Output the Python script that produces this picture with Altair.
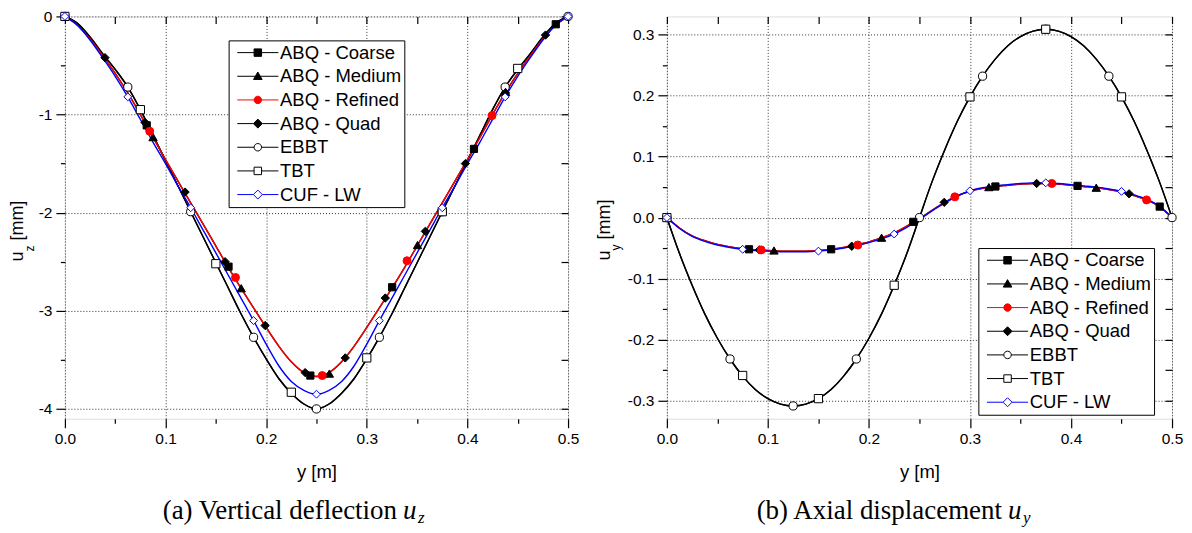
import altair as alt
import pandas as pd

FONT = "Liberation Sans"
SERIF = "Liberation Serif"

# ---------------- data ----------------
SERIES = ["ABQ - Coarse", "ABQ - Medium", "ABQ - Refined", "ABQ - Quad", "EBBT", "TBT", "CUF - LW"]

Y_GRID = [0.0, 0.0125, 0.025, 0.0375, 0.05, 0.0625, 0.075, 0.0875, 0.1, 0.1125,
          0.125, 0.1375, 0.15, 0.1625, 0.175, 0.1875, 0.2, 0.2125, 0.225, 0.2375,
          0.25, 0.2625, 0.275, 0.2875, 0.3, 0.3125, 0.325, 0.3375, 0.35, 0.3625,
          0.375, 0.3875, 0.4, 0.4125, 0.425, 0.4375, 0.45, 0.4625, 0.475, 0.4875, 0.5]

# (a) vertical deflection u_z [mm] -- curves
UZ_EBBT = [0, -0.07, -0.21, -0.38, -0.54, -0.72, -0.95, -1.21, -1.47, -1.73,
           -1.99, -2.25, -2.51, -2.77, -3.03, -3.27, -3.49, -3.69, -3.84, -3.95,
           -4.00, -3.95, -3.84, -3.69, -3.49, -3.27, -3.03, -2.77, -2.51, -2.25,
           -1.99, -1.73, -1.47, -1.21, -0.95, -0.72, -0.54, -0.38, -0.21, -0.07, 0]
UZ_TBT = [0, -0.07, -0.21, -0.38, -0.54, -0.72, -0.95, -1.21, -1.47, -1.73,
          -1.99, -2.25, -2.51, -2.77, -3.03, -3.27, -3.49, -3.69, -3.84, -3.95,
          -4.00, -3.95, -3.84, -3.69, -3.49, -3.27, -3.03, -2.77, -2.51, -2.25,
          -1.99, -1.73, -1.47, -1.21, -0.95, -0.72, -0.54, -0.38, -0.21, -0.07, 0]
UZ_CUF = [0, -0.09, -0.24, -0.42, -0.61, -0.82, -1.05, -1.28, -1.50, -1.73,
          -1.95, -2.18, -2.41, -2.64, -2.87, -3.10, -3.34, -3.56, -3.72, -3.81,
          -3.85, -3.81, -3.72, -3.56, -3.34, -3.10, -2.87, -2.64, -2.41, -2.18,
          -1.95, -1.73, -1.50, -1.28, -1.05, -0.82, -0.61, -0.42, -0.24, -0.09, 0]
UZ_ABQ = [0, -0.09, -0.23, -0.40, -0.58, -0.78, -1.00, -1.23, -1.46, -1.68,
          -1.90, -2.12, -2.34, -2.56, -2.77, -2.97, -3.17, -3.36, -3.52, -3.63,
          -3.67, -3.63, -3.52, -3.36, -3.17, -2.97, -2.77, -2.56, -2.34, -2.12,
          -1.90, -1.68, -1.46, -1.23, -1.00, -0.78, -0.58, -0.40, -0.23, -0.09, 0]

# (a) markers
UZ_EBBT_MY = [0, 0.0625, 0.125, 0.1875, 0.25, 0.3125, 0.375, 0.4375, 0.5]
UZ_EBBT_MU = [0, -0.72, -1.99, -3.27, -4.00, -3.27, -1.99, -0.72, 0]
UZ_TBT_MY = [0, 0.075, 0.15, 0.225, 0.3, 0.375, 0.45]
UZ_TBT_MU = [0, -0.95, -2.52, -3.83, -3.48, -1.99, -0.53]
UZ_CUF_MY = [0, 0.0625, 0.125, 0.1875, 0.25, 0.3125, 0.375, 0.4375, 0.5]
UZ_CUF_MU = [0, -0.82, -1.95, -3.10, -3.85, -3.10, -1.95, -0.82, 0]
UZ_COARSE_MY = [0.0813, 0.1626, 0.2439, 0.3252, 0.4065, 0.4878]
UZ_COARSE_MU = [-1.11, -2.55, -3.66, -2.76, -1.35, -0.08]
UZ_MEDIUM_MY = [0.0876, 0.1752, 0.2628, 0.3504, 0.438]
UZ_MEDIUM_MU = [-1.23, -2.77, -3.64, -2.33, -0.77]
UZ_REFINED_MY = [0.0843, 0.1695, 0.2557, 0.340, 0.4245]
UZ_REFINED_MU = [-1.17, -2.66, -3.66, -2.49, -1.01]
UZ_QUAD_MY = [0.0398, 0.0796, 0.1194, 0.1592, 0.199, 0.2388, 0.2786, 0.3184, 0.3582, 0.398, 0.4378, 0.4776]
UZ_QUAD_MU = [-0.42, -1.08, -1.79, -2.50, -3.15, -3.63, -3.48, -2.87, -2.19, -1.50, -0.78, -0.19]

# (b) axial displacement u_y [mm] -- curves
UY_EBBT = [0, -0.059, -0.111, -0.158, -0.198, -0.232, -0.260, -0.282, -0.297, -0.306,
           -0.309, -0.306, -0.297, -0.282, -0.260, -0.232, -0.198, -0.158, -0.111, -0.059,
           0, 0.059, 0.111, 0.158, 0.198, 0.232, 0.260, 0.282, 0.297, 0.306,
           0.309, 0.306, 0.297, 0.282, 0.260, 0.232, 0.198, 0.158, 0.111, 0.059, 0]
UY_TBT = [0, -0.059, -0.111, -0.158, -0.198, -0.232, -0.260, -0.282, -0.297, -0.306,
          -0.309, -0.306, -0.297, -0.282, -0.260, -0.232, -0.198, -0.158, -0.111, -0.059,
          0, 0.059, 0.111, 0.158, 0.198, 0.232, 0.260, 0.282, 0.297, 0.306,
          0.309, 0.306, 0.297, 0.282, 0.260, 0.232, 0.198, 0.158, 0.111, 0.059, 0]
UY_CUF = [0, -0.018, -0.031, -0.039, -0.045, -0.049, -0.052, -0.054, -0.055, -0.056,
          -0.056, -0.056, -0.055, -0.053, -0.050, -0.046, -0.041, -0.035, -0.027, -0.016,
          -0.003, 0.011, 0.024, 0.035, 0.044, 0.049, 0.052, 0.054, 0.056, 0.057,
          0.057, 0.056, 0.054, 0.052, 0.050, 0.047, 0.043, 0.037, 0.030, 0.019, 0]
UY_ABQ = [0, -0.017, -0.030, -0.038, -0.044, -0.048, -0.051, -0.053, -0.054, -0.055,
          -0.055, -0.055, -0.054, -0.052, -0.049, -0.045, -0.040, -0.033, -0.025, -0.014,
          -0.002, 0.012, 0.025, 0.036, 0.043, 0.048, 0.051, 0.053, 0.055, 0.056,
          0.056, 0.055, 0.053, 0.051, 0.049, 0.046, 0.042, 0.036, 0.029, 0.018, 0]

# (b) markers
UY_EBBT_MY = [0, 0.0625, 0.125, 0.1875, 0.25, 0.3125, 0.375, 0.4375, 0.5]
UY_EBBT_MU = [0, -0.232, -0.309, -0.232, 0, 0.232, 0.309, 0.232, 0]
UY_TBT_MY = [0, 0.075, 0.15, 0.225, 0.3, 0.375, 0.45]
UY_TBT_MU = [0, -0.259, -0.297, -0.111, 0.198, 0.309, 0.198]
UY_CUF_MY = [0, 0.075, 0.15, 0.225, 0.3, 0.375, 0.45]
UY_CUF_MU = [0, -0.052, -0.055, -0.027, 0.044, 0.057, 0.043]
UY_COARSE_MY = [0.0813, 0.1626, 0.2439, 0.3252, 0.4065, 0.4878]
UY_COARSE_MU = [-0.052, -0.052, -0.007, 0.051, 0.052, 0.018]
UY_MEDIUM_MY = [0.106, 0.2125, 0.3187, 0.425]
UY_MEDIUM_MU = [-0.054, -0.033, 0.050, 0.049]
UY_REFINED_MY = [0.0933, 0.189, 0.285, 0.381, 0.4748]
UY_REFINED_MU = [-0.053, -0.045, 0.034, 0.056, 0.029]
UY_QUAD_MY = [0.0915, 0.183, 0.2745, 0.366, 0.4575]
UY_QUAD_MU = [-0.053, -0.047, 0.025, 0.056, 0.039]

X_MAJOR = [0.0, 0.1, 0.2, 0.3, 0.4, 0.5]
X_MINOR = [0.05, 0.15, 0.25, 0.35, 0.45]
UZ_MAJOR = [-4, -3, -2, -1, 0]
UZ_MINOR = [-3.5, -2.5, -1.5, -0.5]
UY_MAJOR = [-0.3, -0.2, -0.1, 0.0, 0.1, 0.2, 0.3]
UY_MINOR = [-0.25, -0.15, -0.05, 0.05, 0.15, 0.25]

# ---------------- styles ----------------
MARK_STYLE = {
    "ABQ - Coarse": ("square", "black", "black", 52),
    "ABQ - Medium": ("triangle-up", "black", "black", 70),
    "ABQ - Refined": ("circle", "#ff0000", "#ff0000", 64),
    "ABQ - Quad": ("diamond", "black", "black", 70),
    "EBBT": ("circle", "white", "black", 68),
    "TBT": ("square", "white", "black", 68),
    "CUF - LW": ("diamond", "white", "#0000ff", 62),
}
LL = 5.5
LEGEND_PATHS = [
    f"M-{LL},0H-1M1,0H{LL}M-1,-1H1V1H-1Z",
    f"M-{LL},0H-0.6M0.6,0H{LL}M0,-1.15L1.15,0.85L-1.15,0.85Z",
    f"M-{LL},0H-1M1,0H{LL}M1,0A1,1,0,1,1,-1,0A1,1,0,1,1,1,0Z",
    f"M-{LL},0H-1.2M1.2,0H{LL}M0,-1.2L1.2,0L0,1.2L-1.2,0Z",
    f"M-{LL},0H-1M1,0H{LL}M1,0A1,1,0,1,1,-1,0A1,1,0,1,1,1,0Z",
    f"M-{LL},0H-1M1,0H{LL}M-1,-1H1V1H-1Z",
    f"M-{LL},0H-1.2M1.2,0H{LL}M0,-1.2L1.2,0L0,1.2L-1.2,0Z",
]
LEGEND_FILLS = [MARK_STYLE[s][1] for s in SERIES]
LEGEND_STROKES = [MARK_STYLE[s][2] for s in SERIES]


def line_df(vals):
    return pd.DataFrame({"y": Y_GRID, "u": vals})


def marker_df(groups):
    rows = []
    for name, ys, us in groups:
        shp, fill, stroke, size = MARK_STYLE[name]
        for a, b in zip(ys, us):
            rows.append({"y": a, "u": b, "series": name, "shape": shp,
                         "fill": fill, "stroke": stroke, "msize": size})
    return pd.DataFrame(rows)


def xenc(axis):
    return alt.X("y:Q", scale=alt.Scale(domain=[0, 0.5], nice=False, zero=False), axis=axis)


def yenc(dom, axis):
    return alt.Y("u:Q", scale=alt.Scale(domain=dom, nice=False, zero=False), axis=axis)


TICK = dict(tickColor="black", tickWidth=1.2, domain=False)


def axis_major(orient, values, expr, title=None):
    kw = dict(orient=orient, values=values, labelExpr=expr, labelFlush=False,
              labelOverlap=False, labelFont=FONT, labelFontSize=15.5, labelColor="black",
              labelPadding=4, tickSize=9, grid=True, gridColor="#333333",
              gridDash=[1, 2], gridWidth=1, title=title, **TICK)
    if title:
        kw.update(titleFont=FONT, titleFontSize=18.5, titleFontWeight="normal",
                  titleColor="black", titlePadding=15)
    return alt.Axis(**kw)


def axis_plain(orient, values, size, offset=0):
    kw = dict(orient=orient, values=values, labels=False, tickSize=size, grid=False,
              title=None, **TICK)
    if offset:
        kw["offset"] = offset
    return alt.Axis(**kw)


def txt(text, x, y, size, font=FONT, angle=0, align="left", style="normal"):
    kw = dict(align=align, baseline="alphabetic", font=font, fontSize=size,
              color="black", fontStyle=style)
    if angle:
        kw["angle"] = angle
    return alt.Chart(pd.DataFrame({"t": [text]})).mark_text(**kw).encode(
        text="t:N", x=alt.value(x), y=alt.value(y))


def panel(W, H, ydom, ymaj, ymin, yexpr, abq, ebbt, tbt, cuf, markers,
          legxy, sub, ytx, yty, cap_x, cap_y, cap_text):
    line = dict(strokeWidth=1.4, interpolate="monotone")
    l1 = alt.Chart(line_df(abq)).mark_line(color="black", **line).encode(
        x=xenc(axis_major("bottom", X_MAJOR, "format(datum.value, '.1f')", "y [m]")),
        y=yenc(ydom, axis_major("left", ymaj, yexpr)))
    l2 = alt.Chart(line_df(ebbt)).mark_line(color="black", **line).encode(
        x=xenc(axis_plain("bottom", X_MINOR, 4.5)),
        y=yenc(ydom, axis_plain("left", ymin, 4.5)))
    l3 = alt.Chart(line_df(tbt)).mark_line(color="black", **line).encode(
        x=xenc(axis_plain("top", X_MAJOR, 7, -7)),
        y=yenc(ydom, axis_plain("right", ymaj, 7, -7)))
    l4 = alt.Chart(line_df(abq)).mark_line(color="#ff0000", **line).encode(
        x=xenc(axis_plain("top", X_MINOR, 7, -7)),
        y=yenc(ydom, axis_plain("right", ymin, 7, -7)))
    l5 = alt.Chart(line_df(cuf)).mark_line(color="#0000ff", **line).encode(
        x=xenc(None), y=yenc(ydom, None))
    pts = alt.Chart(markers).mark_point(opacity=1, strokeWidth=1).encode(
        x=xenc(None), y=yenc(ydom, None),
        shape=alt.Shape("shape:N", scale=None),
        fill=alt.Fill("fill:N", scale=None),
        stroke=alt.Stroke("stroke:N", scale=None),
        size=alt.Size("msize:Q", scale=None))
    leg = alt.Legend(orient="none", legendX=legxy[0], legendY=legxy[1], title=None,
                     direction="vertical", labelFont=FONT, labelFontSize=18.5,
                     labelColor="black", labelOffset=13, symbolOffset=17,
                     symbolSize=56, symbolStrokeWidth=1, rowPadding=4.7, padding=3,
                     strokeColor="black", fillColor="white", labelLimit=300)
    legend_layer = alt.Chart(pd.DataFrame({"series": SERIES})).mark_point(
        clip=True, opacity=1, size=56).encode(
        x=alt.value(-400), y=alt.value(-400),
        shape=alt.Shape("series:N", scale=alt.Scale(domain=SERIES, range=LEGEND_PATHS), legend=leg),
        fill=alt.Fill("series:N", scale=alt.Scale(domain=SERIES, range=LEGEND_FILLS), legend=leg),
        stroke=alt.Stroke("series:N", scale=alt.Scale(domain=SERIES, range=LEGEND_STROKES), legend=leg))
    # y-axis title: u_sub [mm]
    t1 = txt("u", ytx, yty, 18, angle=270)
    t2 = txt(sub, ytx + 10.5, yty - 10, 12, angle=270)
    t3 = txt("[mm]", ytx, yty - 21, 18, angle=270)
    # caption
    c1 = txt(cap_text, cap_x, cap_y, 27, font=SERIF, align="right")
    c2 = txt("u", cap_x + 6, cap_y, 27, font=SERIF, style="italic")
    c3 = txt(sub, cap_x + 21, cap_y + 4, 17, font=SERIF, style="italic")
    return alt.layer(l1, l2, l3, l4, l5, pts, legend_layer, t1, t2, t3, c1, c2, c3).resolve_scale(
        x="independent", y="independent").resolve_axis(
        x="independent", y="independent").properties(width=W, height=H)


left_markers = marker_df([
    ("EBBT", UZ_EBBT_MY, UZ_EBBT_MU), ("TBT", UZ_TBT_MY, UZ_TBT_MU),
    ("ABQ - Coarse", UZ_COARSE_MY, UZ_COARSE_MU), ("ABQ - Medium", UZ_MEDIUM_MY, UZ_MEDIUM_MU),
    ("ABQ - Quad", UZ_QUAD_MY, UZ_QUAD_MU), ("ABQ - Refined", UZ_REFINED_MY, UZ_REFINED_MU),
    ("CUF - LW", UZ_CUF_MY, UZ_CUF_MU)])
right_markers = marker_df([
    ("EBBT", UY_EBBT_MY, UY_EBBT_MU), ("TBT", UY_TBT_MY, UY_TBT_MU),
    ("ABQ - Coarse", UY_COARSE_MY, UY_COARSE_MU), ("ABQ - Medium", UY_MEDIUM_MY, UY_MEDIUM_MU),
    ("ABQ - Quad", UY_QUAD_MY, UY_QUAD_MU), ("ABQ - Refined", UY_REFINED_MY, UY_REFINED_MU),
    ("CUF - LW", UY_CUF_MY, UY_CUF_MU)])

H = 403
left = panel(504, H, [-4.1, 0], UZ_MAJOR, UZ_MINOR,
             "datum.value < 0 ? '-' + format(-datum.value, 'd') : format(datum.value, 'd')",
             UZ_ABQ, UZ_EBBT, UZ_TBT, UZ_CUF, left_markers, (164, 24), "z",
             -41.6, 245.5, 332.7, 503.7, "(a) Vertical deflection")
right = panel(506, H, [-0.33, 0.33], UY_MAJOR, UY_MINOR,
              "datum.value < -0.001 ? '-' + format(-datum.value, '.1f') : format(abs(datum.value), '.1f')",
              UY_ABQ, UY_EBBT, UY_TBT, UY_CUF, right_markers, (312, 232), "y",
              -57.2, 244.4, 335.7, 503.7, "(b) Axial displacement")

chart = alt.hconcat(left, right, spacing=15).resolve_scale(
    shape="independent", fill="independent", stroke="independent").resolve_legend(
    shape="independent", fill="independent", stroke="independent").properties(
    padding=0).configure_view(stroke="black", strokeWidth=1.5).configure(background="white")

chart.save("out.html", embed_options={"renderer": "svg", "actions": False})
